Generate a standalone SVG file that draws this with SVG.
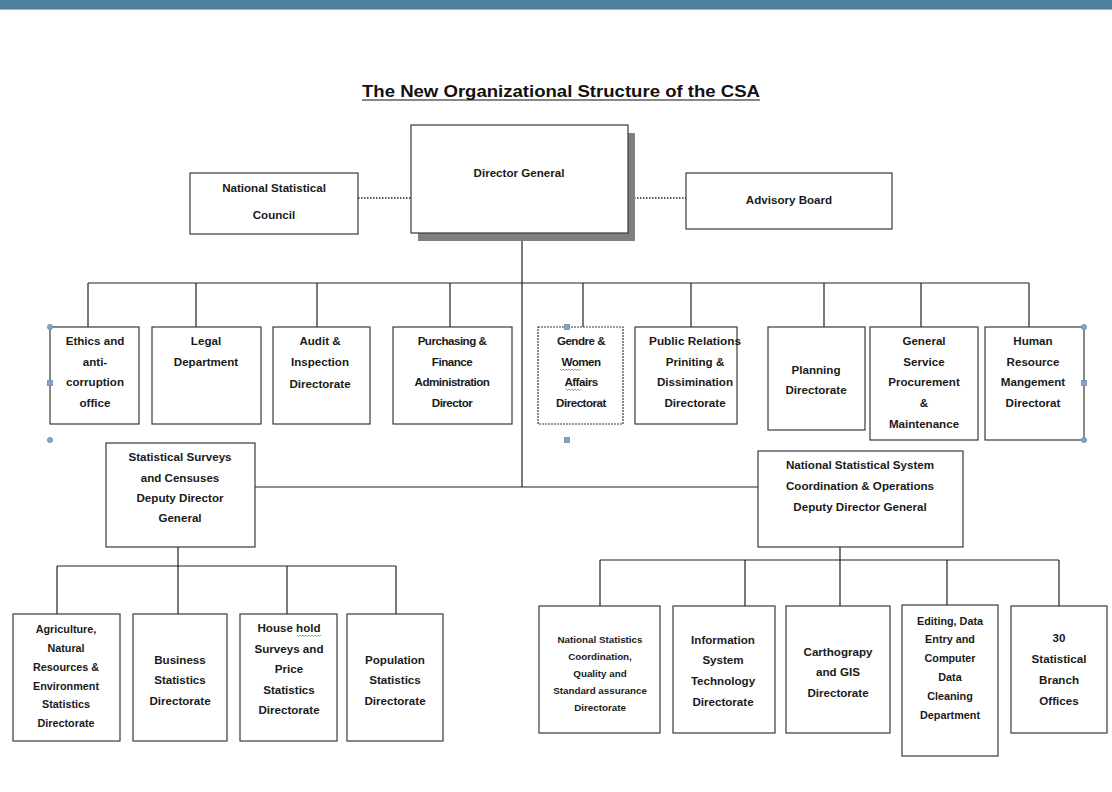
<svg xmlns="http://www.w3.org/2000/svg" width="1112" height="792" viewBox="0 0 1112 792">
<style>
.box{fill:#fff;stroke:#3a3a3a;stroke-width:1.2}
.t{font-family:"Liberation Sans",Arial,sans-serif;font-weight:bold;font-size:11.6px;text-anchor:middle;fill:#1a1a1a}
.s{font-size:10.8px}
.xs{font-size:9.8px}
.ln{stroke:#222;stroke-width:1.2;fill:none}
.dot{stroke:#222;stroke-width:1.6;stroke-dasharray:1.5 1.5;fill:none}
.h{fill:#8aa3c4;stroke:#6f8bb0;stroke-width:0.8}
.sq{fill:none;stroke-width:0.7}
</style>
<rect x="0" y="0" width="1112" height="9" fill="#4d809c"/>
<rect x="0" y="9" width="1112" height="1" fill="#9bb8c8"/>
<text x="561" y="97" font-family="'Liberation Sans',Arial,sans-serif" font-size="17" font-weight="bold" text-anchor="middle" fill="#111" textLength="398" lengthAdjust="spacingAndGlyphs">The New Organizational  Structure  of the CSA</text>
<line x1="362" y1="100" x2="760" y2="100" stroke="#111" stroke-width="1.2"/>

<g id="connectors">
<line class="dot" x1="358" y1="198" x2="411" y2="198"/>
<line class="dot" x1="628" y1="198" x2="686" y2="198"/>
<line class="ln" x1="522" y1="241" x2="522" y2="487"/>
<line class="ln" x1="88" y1="283" x2="1029" y2="283"/>
<path class="ln" d="M88 283V327M196 283V327M317 283V327M450 283V327M583 283V327M691 283V327M824 283V327M921 283V327M1029 283V327"/>
<line class="ln" x1="255" y1="487" x2="758" y2="487"/>
<path class="ln" d="M178 547V566M57 566H396M57 566V614M178 566V614M287 566V614M396 566V614"/>
<path class="ln" d="M840 547V560M600 560H1059M600 560V606M745 560V606M840 560V606M947 560V605M1059 560V606"/>
</g>

<g id="director-general">
<rect x="418" y="133" width="217" height="108" fill="#808080"/>
<rect class="box" x="411" y="125" width="217" height="108"/>
<text class="t" x="519" y="177">Director General</text>
</g>
<g id="national-statistical-council">
<rect class="box" x="190" y="173" width="168" height="61"/>
<text class="t" x="274" y="192">National Statistical</text>
<text class="t" x="274" y="219">Council</text>
</g>
<g id="advisory-board">
<rect class="box" x="686" y="173" width="206" height="56"/>
<text class="t" x="789" y="204">Advisory Board</text>
</g>

<g id="ethics">
<rect class="box" x="50" y="327" width="89" height="97"/>
<text class="t" x="95" y="345">Ethics and</text>
<text class="t" x="95" y="366">anti-</text>
<text class="t" x="95" y="386">corruption</text>
<text class="t" x="95" y="407">office</text>
</g>
<g id="legal">
<rect class="box" x="152" y="327" width="109" height="97"/>
<text class="t" x="206" y="345">Legal</text>
<text class="t" x="206" y="366">Department</text>
</g>
<g id="audit">
<rect class="box" x="273" y="327" width="97" height="97"/>
<text class="t" x="320" y="345">Audit &amp;</text>
<text class="t" x="320" y="366">Inspection</text>
<text class="t" x="320" y="388">Directorate</text>
</g>
<g id="purchasing">
<rect class="box" x="393" y="327" width="119" height="97"/>
<text class="t" x="452" y="345" letter-spacing="-0.5">Purchasing &amp;</text>
<text class="t" x="452" y="366" letter-spacing="-0.5">Finance</text>
<text class="t" x="452" y="386" letter-spacing="-0.5">Administration</text>
<text class="t" x="452" y="407" letter-spacing="-0.5">Director</text>
</g>
<g id="gendre">
<rect class="box" x="538" y="327" width="85" height="97" stroke="#56647a" stroke-dasharray="2 1"/>
<text class="t" x="581" y="345" letter-spacing="-0.5">Gendre &amp;</text>
<text class="t" x="581" y="366" letter-spacing="-0.5">Women</text>
<text class="t" x="581" y="386" letter-spacing="-0.5">Affairs</text>
<text class="t" x="581" y="407" letter-spacing="-0.5">Directorat</text>
<path class="sq" d="M560 369l1.5 1.5 1.5-1.5 1.5 1.5 1.5-1.5 1.5 1.5 1.5-1.5 1.5 1.5 1.5-1.5 1.5 1.5 1.5-1.5 1.5 1.5 1.5-1.5 1.5 1.5 1.5-1.5" stroke="#d04040"/>
<path class="sq" d="M566 389l1.5 1.5 1.5-1.5 1.5 1.5 1.5-1.5 1.5 1.5 1.5-1.5 1.5 1.5 1.5-1.5 1.5 1.5 1.5-1.5" stroke="#d04040"/>
</g>
<g id="public-relations">
<rect class="box" x="635" y="327" width="102" height="97"/>
<text class="t" x="695" y="345" textLength="92" lengthAdjust="spacingAndGlyphs">Public Relations</text>
<text class="t" x="695" y="366">Priniting &amp;</text>
<text class="t" x="695" y="386">Dissimination</text>
<text class="t" x="695" y="407">Directorate</text>
</g>
<g id="planning">
<rect class="box" x="768" y="327" width="97" height="103"/>
<text class="t" x="816" y="374">Planning</text>
<text class="t" x="816" y="394">Directorate</text>
</g>
<g id="general-service">
<rect class="box" x="870" y="327" width="108" height="113"/>
<text class="t" x="924" y="345">General</text>
<text class="t" x="924" y="366">Service</text>
<text class="t" x="924" y="386">Procurement</text>
<text class="t" x="924" y="407">&amp;</text>
<text class="t" x="924" y="428">Maintenance</text>
</g>
<g id="human-resource">
<rect class="box" x="985" y="327" width="99" height="113"/>
<text class="t" x="1033" y="345">Human</text>
<text class="t" x="1033" y="366">Resource</text>
<text class="t" x="1033" y="386">Mangement</text>
<text class="t" x="1033" y="407">Directorat</text>
</g>

<g id="selection-handles">
<circle class="h" cx="50" cy="327" r="2.6"/>
<circle class="h" cx="50" cy="440" r="2.6"/>
<rect class="h" x="47.5" y="380.5" width="5" height="5"/>
<circle class="h" cx="1084" cy="327" r="2.6"/>
<circle class="h" cx="1084" cy="440" r="2.6"/>
<rect class="h" x="1081.5" y="380.5" width="5" height="5"/>
<rect class="h" x="564.5" y="324.5" width="5" height="5"/>
<rect class="h" x="564.5" y="437.5" width="5" height="5"/>
</g>

<g id="statistical-surveys">
<rect class="box" x="106" y="443" width="149" height="104"/>
<text class="t" x="180" y="461">Statistical Surveys</text>
<text class="t" x="180" y="482">and Censuses</text>
<text class="t" x="180" y="502">Deputy Director</text>
<text class="t" x="180" y="522">General</text>
</g>
<g id="national-statistical-system">
<rect class="box" x="758" y="451" width="205" height="96"/>
<text class="t" x="860" y="469">National Statistical System</text>
<text class="t" x="860" y="490">Coordination &amp; Operations</text>
<text class="t" x="860" y="511">Deputy Director General</text>
</g>

<g id="agriculture">
<rect class="box" x="13" y="614" width="107" height="127"/>
<text class="t s" x="66" y="633">Agriculture,</text>
<text class="t s" x="66" y="652">Natural</text>
<text class="t s" x="66" y="671">Resources &amp;</text>
<text class="t s" x="66" y="690">Environment</text>
<text class="t s" x="66" y="708">Statistics</text>
<text class="t s" x="66" y="727">Directorate</text>
</g>
<g id="business">
<rect class="box" x="133" y="614" width="94" height="127"/>
<text class="t" x="180" y="664">Business</text>
<text class="t" x="180" y="684">Statistics</text>
<text class="t" x="180" y="705">Directorate</text>
</g>
<g id="household">
<rect class="box" x="240" y="614" width="97" height="127"/>
<text class="t" x="289" y="632">House hold</text>
<text class="t" x="289" y="653">Surveys and</text>
<text class="t" x="289" y="673">Price</text>
<text class="t" x="289" y="694">Statistics</text>
<text class="t" x="289" y="714">Directorate</text>
<path class="sq" d="M297 635l1.5 1.5 1.5-1.5 1.5 1.5 1.5-1.5 1.5 1.5 1.5-1.5 1.5 1.5 1.5-1.5 1.5 1.5 1.5-1.5 1.5 1.5 1.5-1.5 1.5 1.5 1.5-1.5 1.5 1.5 1.5-1.5" stroke="#3a9a50"/>
</g>
<g id="population">
<rect class="box" x="347" y="614" width="96" height="127"/>
<text class="t" x="395" y="664">Population</text>
<text class="t" x="395" y="684">Statistics</text>
<text class="t" x="395" y="705">Directorate</text>
</g>

<g id="national-statistics-coordination">
<rect class="box" x="539" y="606" width="121" height="127"/>
<text class="t xs" x="600" y="643">National Statistics</text>
<text class="t xs" x="600" y="660">Coordination,</text>
<text class="t xs" x="600" y="677">Quality and</text>
<text class="t xs" x="600" y="694">Standard assurance</text>
<text class="t xs" x="600" y="711">Directorate</text>
</g>
<g id="information-system">
<rect class="box" x="673" y="606" width="102" height="127"/>
<text class="t" x="723" y="644">Information</text>
<text class="t" x="723" y="664">System</text>
<text class="t" x="723" y="685">Technology</text>
<text class="t" x="723" y="706">Directorate</text>
</g>
<g id="carthograpy">
<rect class="box" x="786" y="606" width="104" height="127"/>
<text class="t" x="838" y="656">Carthograpy</text>
<text class="t" x="838" y="676">and GIS</text>
<text class="t" x="838" y="697">Directorate</text>
</g>
<g id="editing">
<rect class="box" x="902" y="605" width="96" height="151"/>
<text class="t s" x="950" y="625">Editing, Data</text>
<text class="t s" x="950" y="643">Entry and</text>
<text class="t s" x="950" y="662">Computer</text>
<text class="t s" x="950" y="681">Data</text>
<text class="t s" x="950" y="700">Cleaning</text>
<text class="t s" x="950" y="719">Department</text>
</g>
<g id="branch-offices">
<rect class="box" x="1011" y="606" width="96" height="127"/>
<text class="t" x="1059" y="642">30</text>
<text class="t" x="1059" y="663">Statistical</text>
<text class="t" x="1059" y="684">Branch</text>
<text class="t" x="1059" y="705">Offices</text>
</g>
</svg>
